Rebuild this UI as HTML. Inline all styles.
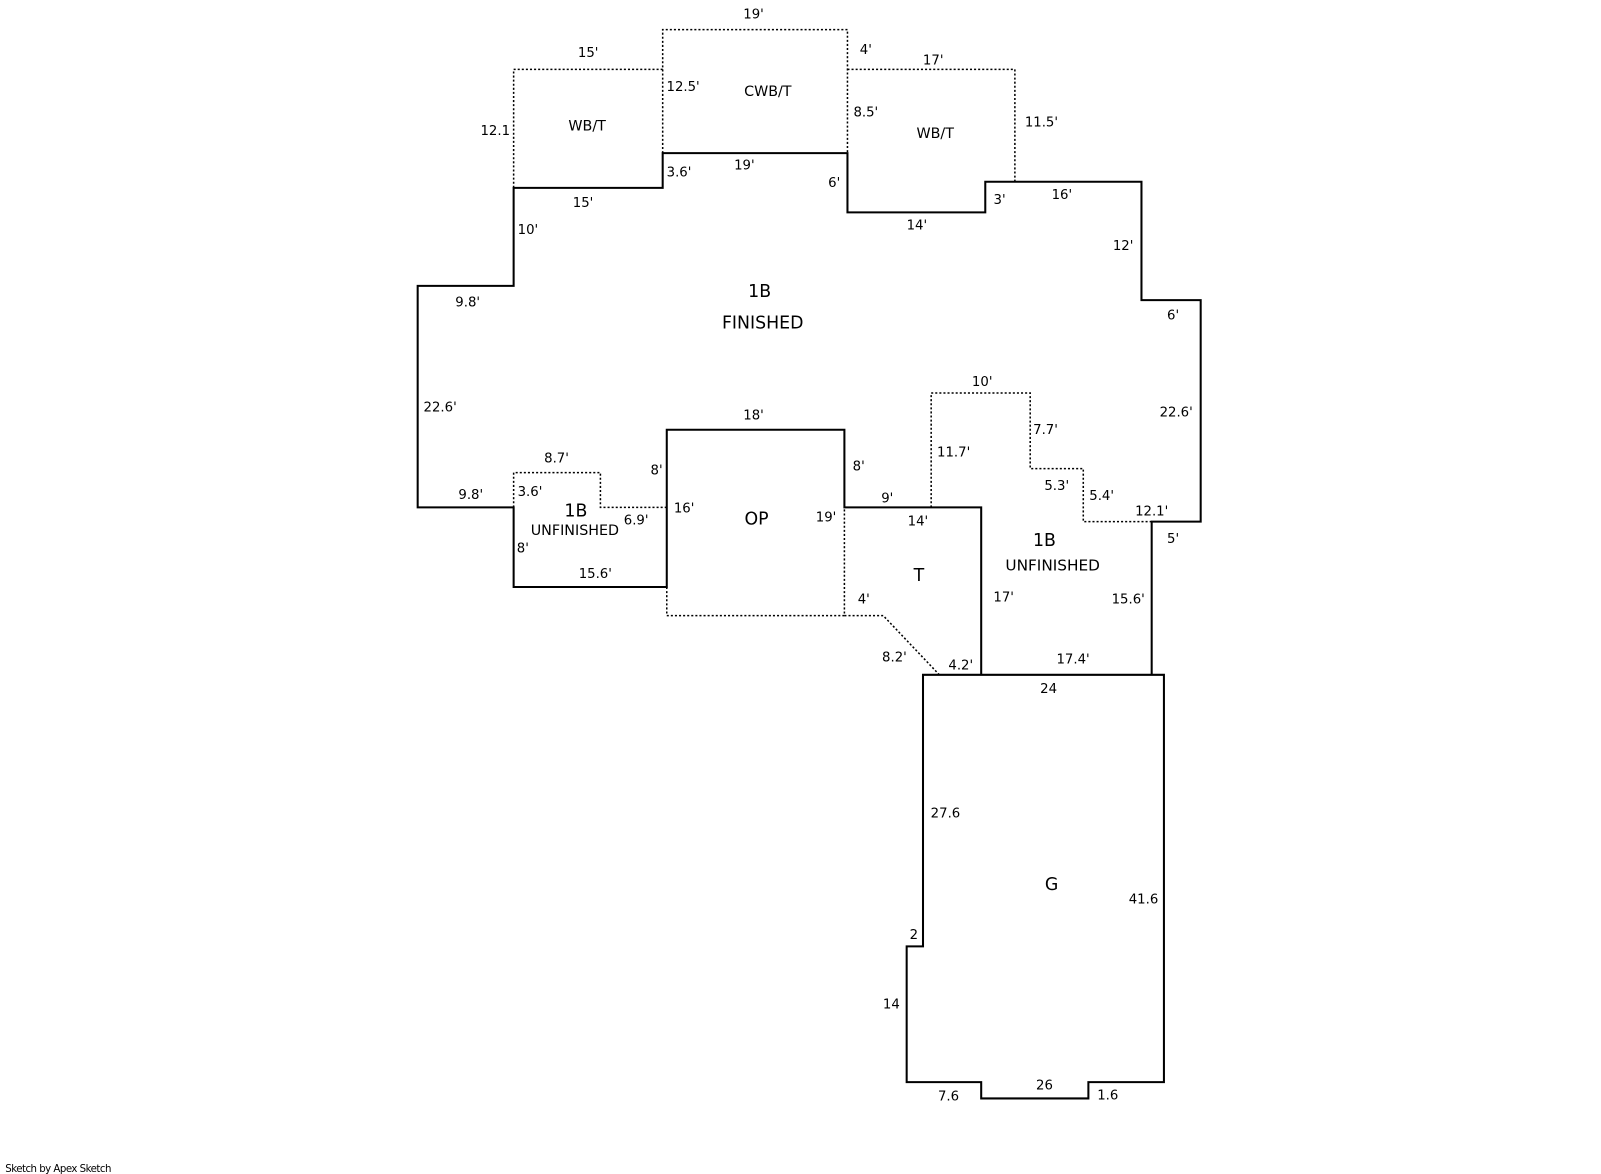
<!DOCTYPE html>
<html><head><meta charset="utf-8"><style>
html,body{margin:0;padding:0;background:#fff;}
svg{display:block;}
text{font-family:"DejaVu Sans","Liberation Sans",sans-serif;fill:#000;}
.d{font-size:13px;}
.l{font-size:17px;}
</style></head><body>
<svg width="1601" height="1174" viewBox="0 0 1568 1150" xmlns="http://www.w3.org/2000/svg">
<g fill="none" stroke="#000" stroke-width="2">
<polyline points="1128,661 1128,511 1176,511 1176,294 1118,294 1118,178 965,178 965,208 830,208 830,150 649,150 649,184 503,184 503,280 409,280 409,497 503,497 503,575 653,575 653,421 827,421 827,497 961,497 961,661"/>
<polygon points="904,661 1140,661 1140,1060 1066,1060 1066,1076 961,1076 961,1060 888,1060 888,927 904,927"/>
</g>
<g fill="none" stroke="#000" stroke-width="1.5" stroke-dasharray="2,2">
<polyline points="503,184 503,68 649,68"/>
<polyline points="649,150 649,29 830,29 830,150"/>
<polyline points="830,68 994,68 994,178"/>
<polyline points="503,497 503,463 588,463 588,497 653,497"/>
<polyline points="653,575 653,603 827,603 827,497"/>
<polyline points="827,603 865,603 920,661 961,661"/>
<polyline points="912,497 912,385 1009,385 1009,459 1061,459 1061,511 1128,511"/>
</g>
<g class="d" text-anchor="middle">
<text x="738" y="18">19'</text>
<text x="576" y="56">15'</text>
<text x="848" y="53">4'</text>
<text x="914" y="63">17'</text>
<text x="669" y="89">12.5'</text>
<text x="485" y="132">12.1</text>
<text x="848" y="114">8.5'</text>
<text x="1020" y="124">11.5'</text>
<text x="665" y="173">3.6'</text>
<text x="729" y="166">19'</text>
<text x="817" y="183">6'</text>
<text x="571" y="203">15'</text>
<text x="898" y="225">14'</text>
<text x="979" y="200">3'</text>
<text x="1040" y="195">16'</text>
<text x="517" y="229">10'</text>
<text x="1100" y="245">12'</text>
<text x="458" y="300">9.8'</text>
<text x="1149" y="313">6'</text>
<text x="431" y="403">22.6'</text>
<text x="1152" y="408">22.6'</text>
<text x="962" y="378">10'</text>
<text x="738" y="411">18'</text>
<text x="1024" y="425">7.7'</text>
<text x="545" y="453">8.7'</text>
<text x="934" y="447">11.7'</text>
<text x="643" y="465">8'</text>
<text x="841" y="461">8'</text>
<text x="1035" y="480">5.3'</text>
<text x="1079" y="490">5.4'</text>
<text x="461" y="489">9.8'</text>
<text x="519" y="486">3.6'</text>
<text x="869" y="492">9'</text>
<text x="670" y="502">16'</text>
<text x="809" y="511">19'</text>
<text x="899" y="515">14'</text>
<text x="1128" y="505">12.1'</text>
<text x="623" y="514">6.9'</text>
<text x="512" y="541">8'</text>
<text x="1149" y="532">5'</text>
<text x="583" y="566">15.6'</text>
<text x="983" y="589">17'</text>
<text x="1105" y="591">15.6'</text>
<text x="846" y="591">4'</text>
<text x="876" y="648">8.2'</text>
<text x="941" y="656">4.2'</text>
<text x="1051" y="650">17.4'</text>
<text x="1027" y="679">24</text>
<text x="926" y="801">27.6</text>
<text x="1120" y="885">41.6</text>
<text x="895" y="920">2</text>
<text x="873" y="988">14</text>
<text x="929" y="1078">7.6</text>
<text x="1023" y="1067">26</text>
<text x="1085" y="1077">1.6</text>
</g>
<g class="d" text-anchor="middle" style="font-size:14px">
<text x="575" y="128">WB/T</text>
<text x="752" y="94">CWB/T</text>
<text x="916" y="135">WB/T</text>
<text x="563" y="524">UNFINISHED</text>
</g>
<g class="l" text-anchor="middle">
<text x="744" y="291">1B</text>
<text x="747" y="322">FINISHED</text>
<text x="564" y="506">1B</text>
<text x="741" y="514">OP</text>
<text x="900" y="569">T</text>
<text x="1023" y="535">1B</text>
<text x="1031" y="559" style="font-size:15px">UNFINISHED</text>
<text x="1030" y="872">G</text>
</g>
<text x="5" y="1148" style="font-size:10px;letter-spacing:-0.5px">Sketch by Apex Sketch</text>
</svg>
</body></html>
